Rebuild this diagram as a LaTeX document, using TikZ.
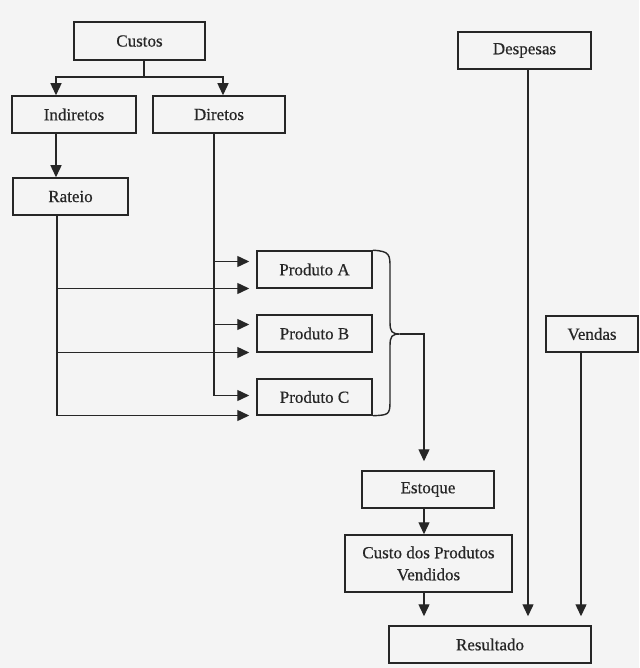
\documentclass[tikz,border=0pt]{standalone}
\usepackage{fontspec}
\setmainfont[FakeBold=0.5]{Liberation Serif}
\usetikzlibrary{arrows.meta}
\definecolor{bg}{HTML}{F4F4F4}
\definecolor{ink}{HTML}{262626}
\begin{document}
\begin{tikzpicture}[x=1pt,y=-1pt,
  box/.style={draw=ink,line width=1.5pt,inner sep=0pt,align=center,text=ink,
    font=\fontsize{17}{22}\selectfont},
  conn/.style={draw=ink,line width=1.4pt},
  arr/.style={conn,-{Triangle[length=12pt,width=11pt]}}]
\fill[bg] (0,0) rectangle (639,668);
\useasboundingbox (0,0) rectangle (639,668);
% nodes
\node[box,minimum width=131pt,minimum height=38pt] (custos) at (139.5,41) {Custos};
\node[box,minimum width=124pt,minimum height=37pt] (indiretos) at (74,114.5) {Indiretos};
\node[box,minimum width=132pt,minimum height=37pt] (diretos) at (219,114.5) {Diretos};
\node[box,minimum width=115pt,minimum height=37pt] (rateio) at (70.5,196.5) {Rateio};
\node[box,minimum width=115pt,minimum height=37pt] (prodA) at (314.5,269.5) {Produto A};
\node[box,minimum width=115pt,minimum height=37pt] (prodB) at (314.5,333.5) {Produto B};
\node[box,minimum width=115pt,minimum height=36pt] (prodC) at (314.5,397) {Produto C};
\node[box,minimum width=132pt,minimum height=37pt] (estoque) at (428,489.5) {Estoque};
\node[box,minimum width=167pt,minimum height=57pt] (cpv) at (428.5,563.5) {Custo dos Produtos\\Vendidos};
\node[box,minimum width=202pt,minimum height=37pt] (resultado) at (490,644.5) {Resultado};
\node[box,minimum width=133pt,minimum height=37pt] (despesas) at (524.5,50.5) {Despesas};
\node[box,minimum width=92pt,minimum height=36pt] (vendas) at (592,334) {Vendas};
% custos split
\coordinate (split) at (144,77);
\draw[conn] (custos.south -| split) -- (split);
\draw[arr] (split) -| ([xshift=-18pt]indiretos.north);
\draw[arr] (split) -| ([xshift=4pt]diretos.north);
% indiretos -> rateio
\draw[arr] ([xshift=-18pt]indiretos.south) -- ([xshift=-18pt]indiretos.south |- rateio.north);
% rateio lines
\coordinate (rx) at (57,0);
\coordinate (rA) at (57,288.5);
\coordinate (rB) at (57,352.5);
\coordinate (rC) at (57,415.5);
\draw[conn] (rateio.south -| rx) -- (rC);
\draw[arr] (rA) -- ([xshift=-7pt]prodA.west |- rA);
\draw[arr] (rB) -- ([xshift=-7pt]prodB.west |- rB);
\draw[arr] (rC) -- ([xshift=-7pt]prodC.west |- rC);
% diretos lines
\coordinate (dx) at (214,0);
\coordinate (dA) at (214,261.5);
\coordinate (dB) at (214,324.5);
\coordinate (dC) at (214,395.5);
\draw[conn] (diretos.south -| dx) -- (dC);
\draw[arr] (dA) -- ([xshift=-7pt]prodA.west |- dA);
\draw[arr] (dB) -- ([xshift=-7pt]prodB.west |- dB);
\draw[arr] (dC) -- ([xshift=-7pt]prodC.west |- dC);
% brace
\coordinate (tip) at (400,334);
\draw[conn] (prodA.north east) .. controls (390,251) and (390,255) .. (390,268)
  -- (390,322) .. controls (390,332) and (392,334) .. (tip)
  .. controls (392,334) and (390,336) .. (390,346)
  -- (390,402) .. controls (390,415) and (388,415) .. (prodC.south east);
\draw[arr,shorten >=9pt] (tip) -| ([xshift=-4pt]estoque.north);
% flow down
\draw[arr] ([xshift=-4pt]estoque.south) -- ([xshift=-4pt]estoque.south |- cpv.north);
\draw[arr,shorten >=9pt] ([xshift=-4.5pt]cpv.south) -- ([xshift=-4.5pt]cpv.south |- resultado.north);
\draw[arr,shorten >=9pt] ([xshift=3.5pt]despesas.south) -- ([xshift=3.5pt]despesas.south |- resultado.north);
\draw[arr,shorten >=9pt] ([xshift=-11pt]vendas.south) -- ([xshift=-11pt]vendas.south |- resultado.north);
\end{tikzpicture}
\end{document}
